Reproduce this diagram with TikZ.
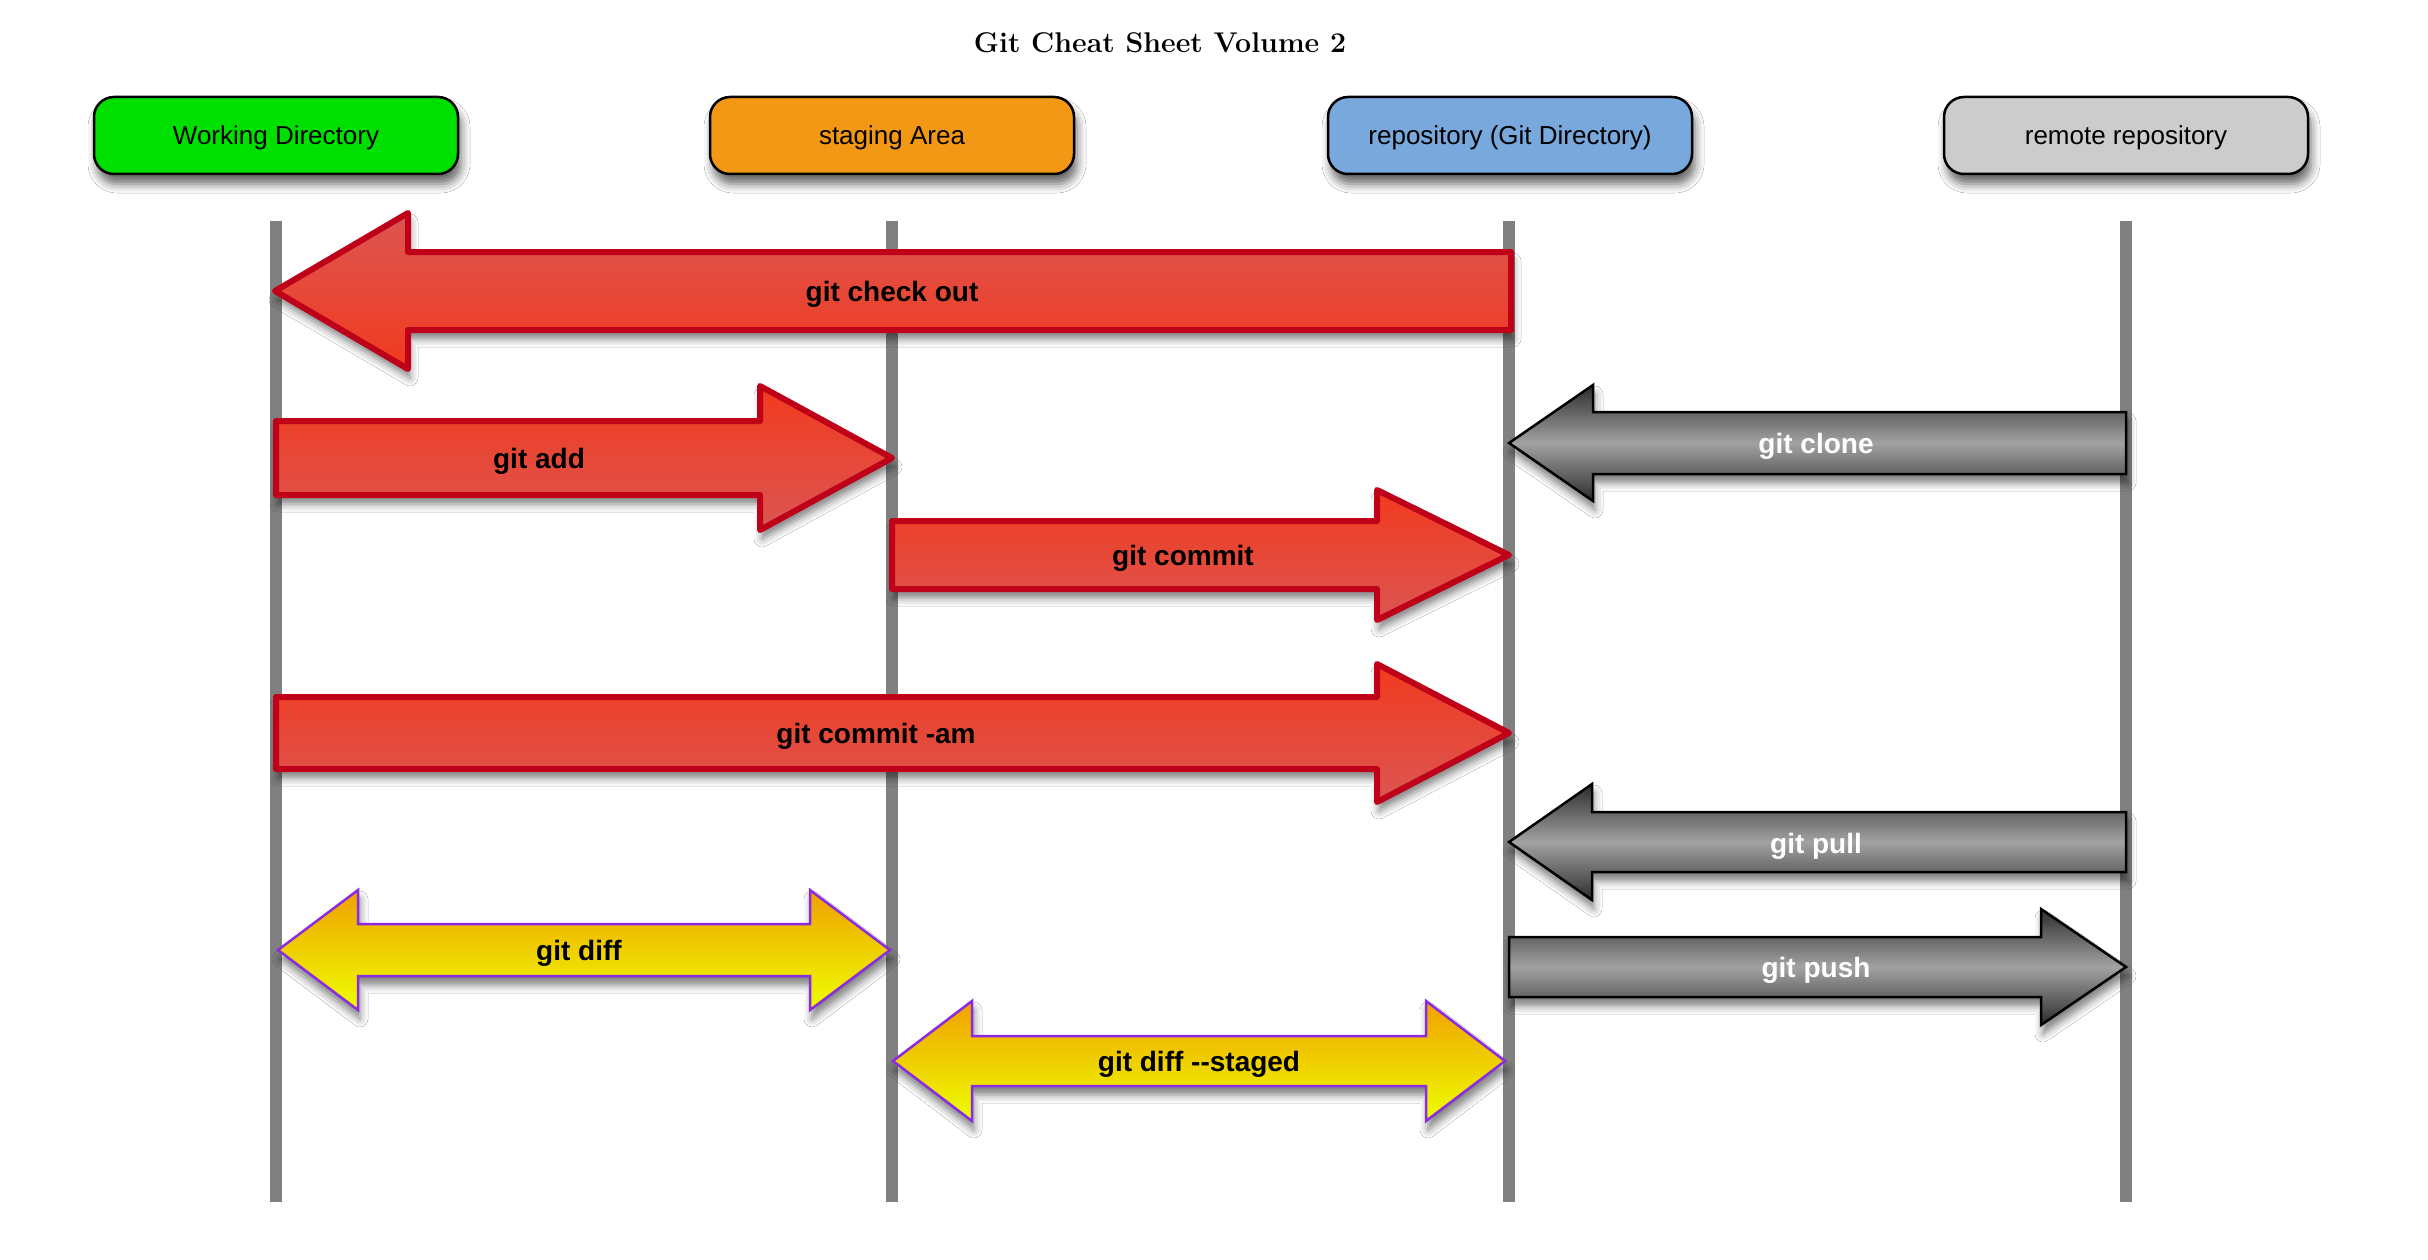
\documentclass[tikz,border=0pt]{standalone}
\usepackage{fontspec}
\setsansfont{Liberation Sans}
\usetikzlibrary{shadows.blur}
\definecolor{wdgreen}{HTML}{00E000}
\definecolor{stageorange}{HTML}{F39814}
\definecolor{repoblue}{HTML}{78A8DC}
\definecolor{remotegray}{HTML}{CCCCCC}
\definecolor{lifegray}{HTML}{808080}
\definecolor{redborder}{HTML}{BE0018}
\definecolor{redlight}{HTML}{DB5652}
\definecolor{redbright}{HTML}{F23A1E}
\definecolor{graydark}{HTML}{2C2C2C}
\definecolor{graymid}{HTML}{A2A2A2}
\definecolor{yellowtop}{HTML}{F0A000}
\definecolor{yellowbot}{HTML}{EEFF00}
\definecolor{purpleborder}{HTML}{8A2BE2}
% #1 style, #2 x tail, #3 x tip, #4 y, #5 shaft half, #6 head half, #7 signed head length
\newcommand\blockarrow[7]{%
  \path[#1] ({#2},{#4-#5}) -- ({#3-(#7)},{#4-#5}) -- ({#3-(#7)},{#4-#6}) -- ({#3},{#4})
    -- ({#3-(#7)},{#4+#6}) -- ({#3-(#7)},{#4+#5}) -- ({#2},{#4+#5}) -- cycle;}
% #1 style, #2 x left tip, #3 x right tip, #4 y, #5 shaft half, #6 head half, #7 head length
\newcommand\twowayarrow[7]{%
  \path[#1] ({#2},{#4}) -- ({#2+#7},{#4-#6}) -- ({#2+#7},{#4-#5}) -- ({#3-#7},{#4-#5})
    -- ({#3-#7},{#4-#6}) -- ({#3},{#4}) -- ({#3-#7},{#4+#6}) -- ({#3-#7},{#4+#5})
    -- ({#2+#7},{#4+#5}) -- ({#2+#7},{#4+#6}) -- cycle;}
\tikzset{
  stage/.style={rounded corners=20pt, draw=black, line width=2.5pt,
    minimum width=364pt, minimum height=77pt, inner sep=0pt,
    text height=18.7pt, text depth=0pt,
    font=\fontsize{26}{30}\selectfont\sffamily,
    blur shadow={shadow xshift=3pt, shadow yshift=-10pt, shadow blur radius=9pt, shadow opacity=60}},
  lifeline/.style={draw=lifegray, line width=12pt},
  arrowshadow/.style={blur shadow={shadow xshift=2pt, shadow yshift=-9pt, shadow blur radius=8pt, shadow opacity=50}},
  redright/.style={arrowshadow, draw=redborder, line width=6pt, line join=round,
    top color=redbright, bottom color=redlight},
  redleft/.style={arrowshadow, draw=redborder, line width=6pt, line join=round,
    top color=redlight, bottom color=redbright},
  grayarrow/.style={arrowshadow, draw=black, line width=2.5pt, line join=miter,
    top color=graydark, bottom color=graydark, middle color=graymid},
  yellowarrow/.style={arrowshadow, draw=purpleborder, line width=2.5pt,
    top color=yellowtop, bottom color=yellowbot},
  lbl/.style={inner sep=0pt, text height=20pt, text depth=0pt,
    font=\fontsize{28}{30}\selectfont\sffamily\bfseries},
  wlbl/.style={lbl, text=white},
}
\begin{document}
\begin{tikzpicture}[x=1pt,y=-1pt]
\fill[white] (0,0) rectangle (2428,1260);
\useasboundingbox (0,0) rectangle (2428,1260);

\node[anchor=base, font=\fontsize{28.5}{32}\selectfont\bfseries] (title) at (1160,53) {Git Cheat Sheet Volume 2};

\node[stage, fill=wdgreen] (wd) at (276,135.5) {Working Directory};
\node[stage, fill=stageorange] (sa) at (892,135.5) {staging Area};
\node[stage, fill=repoblue] (repo) at (1510,135.5) {repository (Git Directory)};
\node[stage, fill=remotegray] (remote) at (2126,135.5) {remote repository};

\coordinate (wd-top) at (276,221);   \coordinate (wd-bot) at (276,1202);
\coordinate (sa-top) at (892,221);   \coordinate (sa-bot) at (892,1202);
\coordinate (repo-top) at (1509,221); \coordinate (repo-bot) at (1509,1202);
\coordinate (remote-top) at (2126,221); \coordinate (remote-bot) at (2126,1202);
\draw[lifeline] (wd-top) -- (wd-bot);
\draw[lifeline] (sa-top) -- (sa-bot);
\draw[lifeline] (repo-top) -- (repo-bot);
\draw[lifeline] (remote-top) -- (remote-bot);

% git check out
\blockarrow{redleft}{1511}{275}{291}{39}{78}{-133}
\node[lbl] (checkout) at (892,291) {git check out};
% git add
\blockarrow{redright}{276}{892}{458}{37}{72}{132}
\node[lbl] (add) at (539,458) {git add};
% git commit
\blockarrow{redright}{892}{1509}{555}{34}{65}{132}
\node[lbl] (commit) at (1183,555) {git commit};
% git commit -am
\blockarrow{redright}{276}{1509}{733}{36}{69}{132}
\node[lbl] (commitam) at (876,733) {git commit -am};
% git clone
\blockarrow{grayarrow}{2126}{1509}{443}{31}{58}{-84}
\node[wlbl] (clone) at (1816,443) {git clone};
% git pull
\blockarrow{grayarrow}{2126}{1509}{842}{30}{58}{-83}
\node[wlbl] (pull) at (1816,843) {git pull};
% git push
\blockarrow{grayarrow}{1509}{2126}{967}{30}{58}{85}
\node[wlbl] (push) at (1816,967) {git push};
% git diff
\twowayarrow{yellowarrow}{278}{890}{950}{26}{60}{80}
\node[lbl] (diff) at (579,950) {git diff};
% git diff --staged
\twowayarrow{yellowarrow}{893}{1505}{1061}{25}{60}{79}
\node[lbl] (staged) at (1199,1061) {git diff -{}-staged};
\end{tikzpicture}
\end{document}
